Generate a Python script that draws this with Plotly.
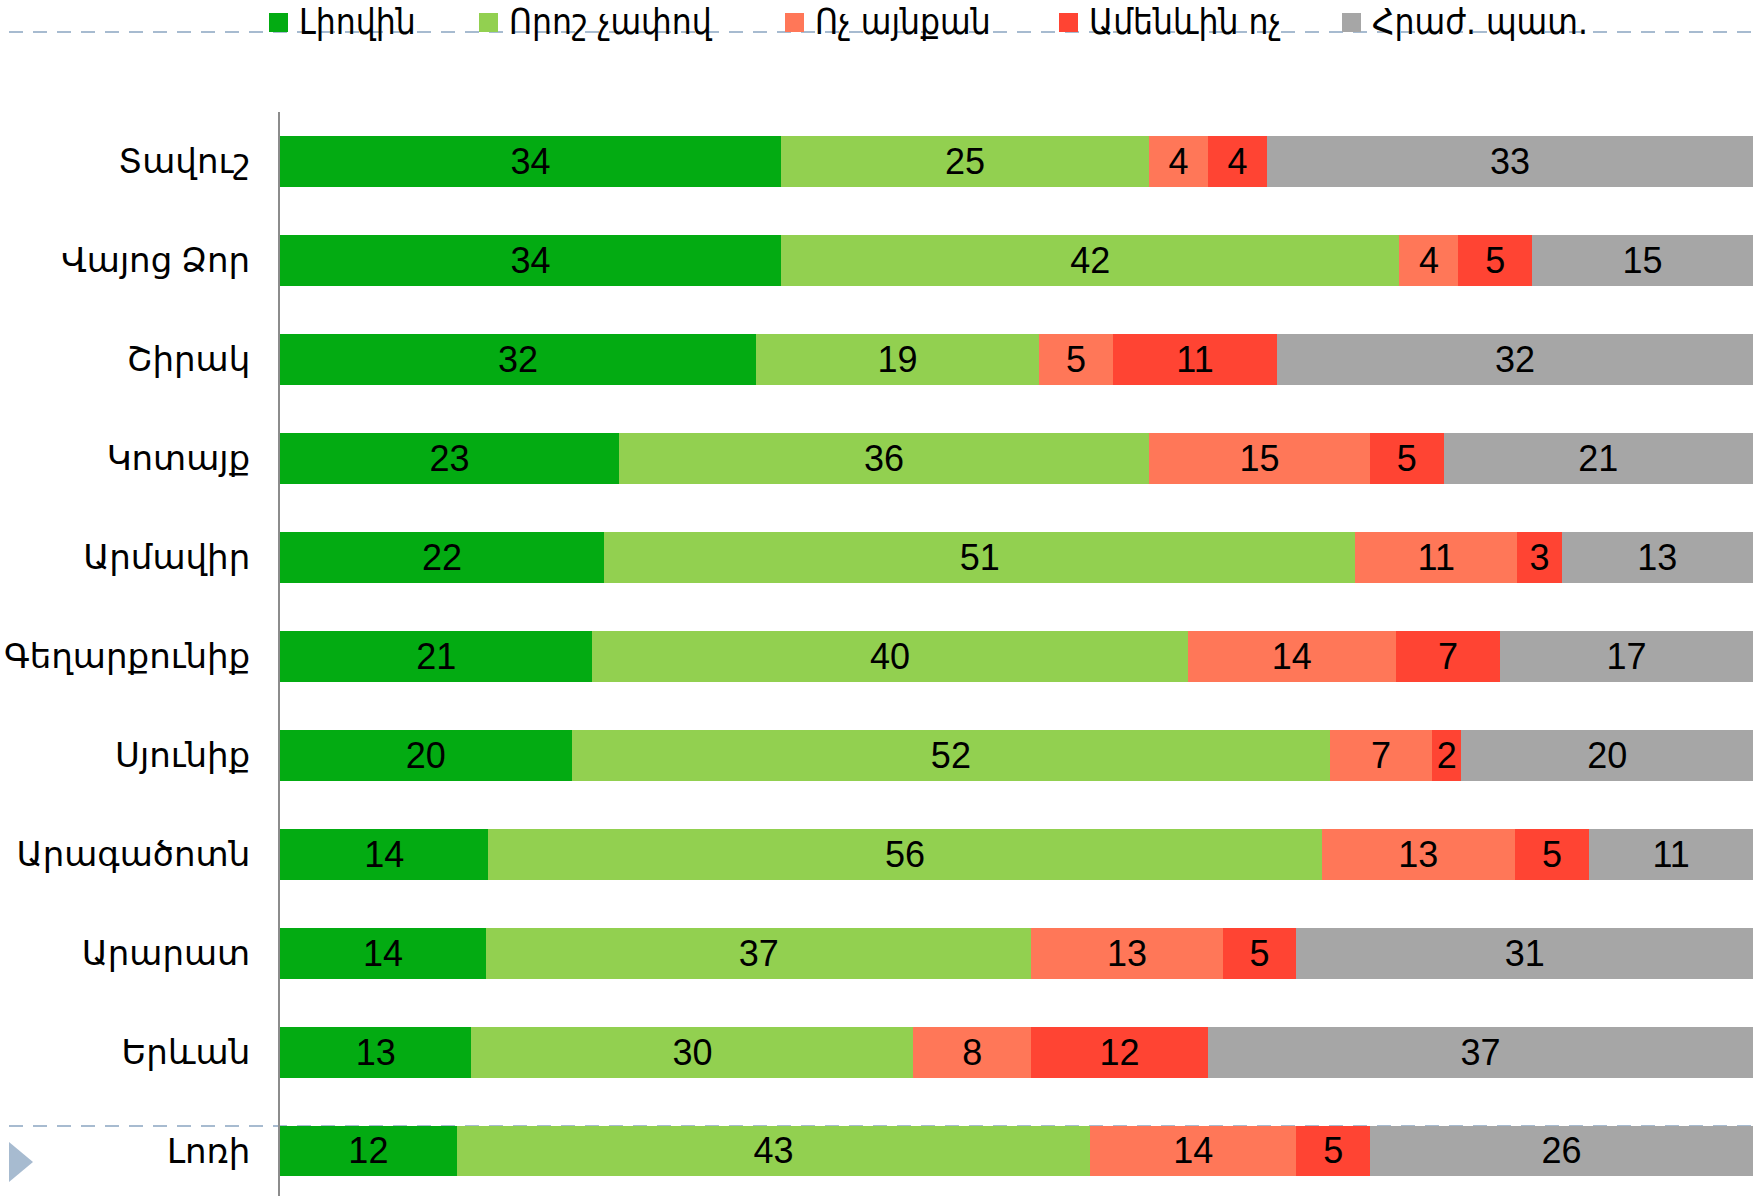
import plotly.graph_objects as go

regions = ["Տավուշ", "Վայոց Ձոր", "Շիրակ", "Կոտայք", "Արմավիր", "Գեղարքունիք",
           "Սյունիք", "Արագածոտն", "Արարատ", "Երևան", "Լոռի"]
series_names = ["Լիովին", "Որոշ չափով", "Ոչ այնքան", "Ամենևին ոչ", "Հրաժ. պատ."]
full = [34, 34, 32, 23, 22, 21, 20, 14, 14, 13, 12]
somewhat = [25, 42, 19, 36, 51, 40, 52, 56, 37, 30, 43]
not_much = [4, 4, 5, 15, 11, 14, 7, 13, 13, 8, 14]
not_at_all = [4, 5, 11, 5, 3, 7, 2, 5, 5, 12, 5]
refused = [33, 15, 32, 21, 13, 17, 20, 11, 31, 37, 26]
colors = ["#03AB12", "#92D050", "#FF7758", "#FF4433", "#A6A6A6"]

W, H = 1756, 1196
L, R, T, B = 280, 3, 112, 0
PW, PH = W - L - R, H - T - B


def px_x(x):
    return (x - L) / PW


def px_y(y):
    return (H - B - y) / PH


fig = go.Figure()
for name, vals, col in zip(series_names, [full, somewhat, not_much, not_at_all, refused], colors):
    fig.add_trace(go.Bar(
        y=regions, x=vals, name=name, orientation="h",
        marker=dict(color=col, line=dict(width=0)),
        text=vals, texttemplate="%{text}", textposition="inside",
        insidetextanchor="middle",
        textfont=dict(family="Liberation Sans, Arial, sans-serif", size=36, color="black"),
        width=0.515, showlegend=False,
    ))

dash_col = "#A7BBD0"
shapes = [
    dict(type="line", xref="paper", yref="paper", x0=px_x(9), x1=px_x(1756),
         y0=px_y(32), y1=px_y(32), line=dict(color=dash_col, width=2, dash="14px,10px"), layer="below"),
    dict(type="line", xref="paper", yref="paper", x0=px_x(9), x1=px_x(1756),
         y0=px_y(1126), y1=px_y(1126), line=dict(color=dash_col, width=2, dash="14px,10px"), layer="below"),
    dict(type="path", xref="paper", yref="paper",
         path=f"M{px_x(9)},{px_y(1142)} L{px_x(9)},{px_y(1182)} L{px_x(33)},{px_y(1162)} Z",
         fillcolor=dash_col, line=dict(width=0)),
]

# legend (drawn as squares + labels)
legend_x = [269, 479, 785, 1059, 1342]
annotations = []
for name, col, lx in zip(series_names, colors, legend_x):
    shapes.append(dict(type="rect", xref="paper", yref="paper",
                       x0=px_x(lx), x1=px_x(lx + 19), y0=px_y(32), y1=px_y(13),
                       fillcolor=col, line=dict(width=0)))
    annotations.append(dict(text=name, xref="paper", yref="paper",
                            x=px_x(lx + 28), y=px_y(22), xanchor="left", yanchor="middle",
                            showarrow=False,
                            font=dict(family="DejaVu Sans Condensed, DejaVu Sans, sans-serif",
                                      size=35, color="black"),
                            bgcolor="rgba(0,0,0,0)"))

fig.update_layout(
    width=W, height=H,
    margin=dict(l=L, r=R, t=T, b=B, pad=0),
    barmode="stack", barnorm="percent",
    plot_bgcolor="white", paper_bgcolor="white",
    uniformtext=dict(minsize=36, mode="show"),
    showlegend=False,
    xaxis=dict(range=[0, 100], visible=False, showgrid=False, zeroline=False, fixedrange=True),
    yaxis=dict(categoryorder="array", categoryarray=regions,
               range=[10.455, -0.5], showgrid=False, zeroline=False,
               showline=True, linecolor="#8C8C8C", linewidth=2,
               ticks="", ticklabelstandoff=21,
               tickfont=dict(family="Noto Sans, DejaVu Sans, sans-serif", size=34, color="black")),
    shapes=shapes,
    annotations=annotations,
)

fig.write_html("out.html", config={"displayModeBar": False},
               post_script="document.body.style.margin='0';document.body.style.overflow='hidden';")
